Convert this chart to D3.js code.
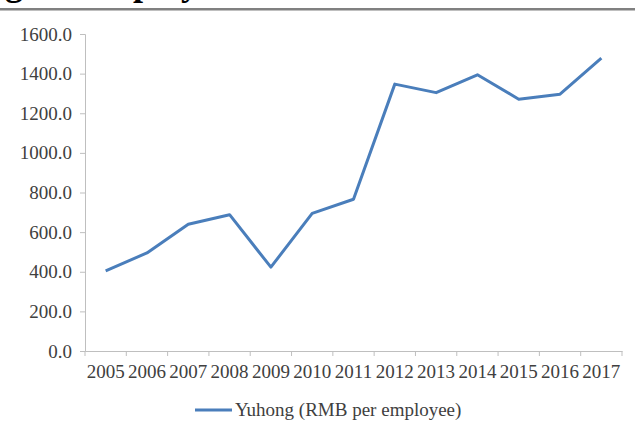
<!DOCTYPE html>
<html>
<head>
<meta charset="utf-8">
<script src="https://cdn.jsdelivr.net/npm/d3@7"></script>
<style>
  body { margin: 0; background: #fff; }
  svg { display: block; }
  .tick text { font-family: "Liberation Serif", "Times New Roman", serif; fill: #404040; }
</style>
</head>
<body>
<div id="chart"></div>
<script>
// Yuhong wage per employee, 2005-2017
const years = ['2005', '2006', '2007', '2008', '2009', '2010', '2011',
               '2012', '2013', '2014', '2015', '2016', '2017'];
const yuhong = [405, 495, 640, 688, 423, 695, 766, 1347, 1304, 1394, 1271, 1296, 1478];
const yTicks = [0, 200, 400, 600, 800, 1000, 1200, 1400, 1600];
const seriesName = 'Yuhong (RMB per employee)';

const width = 635, height = 424;
const margin = { top: 34, right: 13, bottom: 73, left: 85 };

const svg = d3.select('#chart')
    .append('svg')
    .attr('width', width)
    .attr('height', height);

// caption of the figure, cropped by the top edge (only descenders show)
const caption = svg.append('text')
    .attr('x', 0)
    .attr('y', -5)
    .style('font-family', '"Liberation Serif", serif')
    .style('font-weight', 'bold')
    .style('font-size', '36px')
    .style('fill', '#000')
    .text('Wage of employees');
const gIdx = caption.text().indexOf('g');
const gx = caption.node().getStartPositionOfChar(gIdx).x;
caption.attr('x', 5 - gx);

svg.append('rect')
    .attr('x', 0)
    .attr('y', 8)
    .attr('width', width)
    .attr('height', 2.5)
    .style('fill', '#808080');

const x = d3.scaleBand()
    .domain(years)
    .range([margin.left, width - margin.right])
    .padding(0);

const y = d3.scaleLinear()
    .domain([0, 1600])
    .range([height - margin.bottom, margin.top]);

// y axis
const yAxis = svg.append('g')
    .attr('transform', `translate(${margin.left},0)`)
    .call(d3.axisLeft(y).tickValues(yTicks).tickSize(5).tickPadding(8).tickFormat(d3.format('.1f')));
yAxis.select('.domain').attr('stroke', '#bfbfbf').attr('stroke-width', 1);
yAxis.selectAll('.tick line').attr('stroke', '#bfbfbf');
yAxis.selectAll('.tick text').style('font-size', '19px');

// x axis, ticks sit on category boundaries
const xAxis = svg.append('g')
    .attr('transform', `translate(0,${y(0)})`)
    .call(d3.axisBottom(x).tickSize(0).tickPadding(14));
xAxis.select('.domain').attr('stroke', '#bfbfbf').attr('stroke-width', 1);
xAxis.selectAll('.tick text').style('font-size', '19px');

const bounds = years.map(d => x(d)).concat([x(years[years.length - 1]) + x.bandwidth()]);
xAxis.selectAll('line.bound')
    .data(bounds)
    .enter()
    .append('line')
    .attr('class', 'bound')
    .attr('x1', d => d)
    .attr('x2', d => d)
    .attr('y1', 0)
    .attr('y2', 5)
    .attr('stroke', '#bfbfbf');

// series line
const line = d3.line()
    .x((d, i) => x(years[i]) + x.bandwidth() / 2)
    .y(d => y(d));

svg.append('path')
    .datum(yuhong)
    .attr('d', line)
    .style('fill', 'none')
    .style('stroke', '#4a7ebb')
    .style('stroke-width', 3)
    .style('stroke-linejoin', 'round');

// legend
const legend = svg.append('g').attr('transform', 'translate(195,410)');
legend.append('line')
    .attr('x1', 0)
    .attr('x2', 37)
    .style('stroke', '#4a7ebb')
    .style('stroke-width', 3);
legend.append('text')
    .attr('x', 40)
    .attr('y', 6)
    .style('font-family', '"Liberation Serif", serif')
    .style('font-size', '19px')
    .style('fill', '#404040')
    .text(seriesName);
</script>
</body>
</html>
